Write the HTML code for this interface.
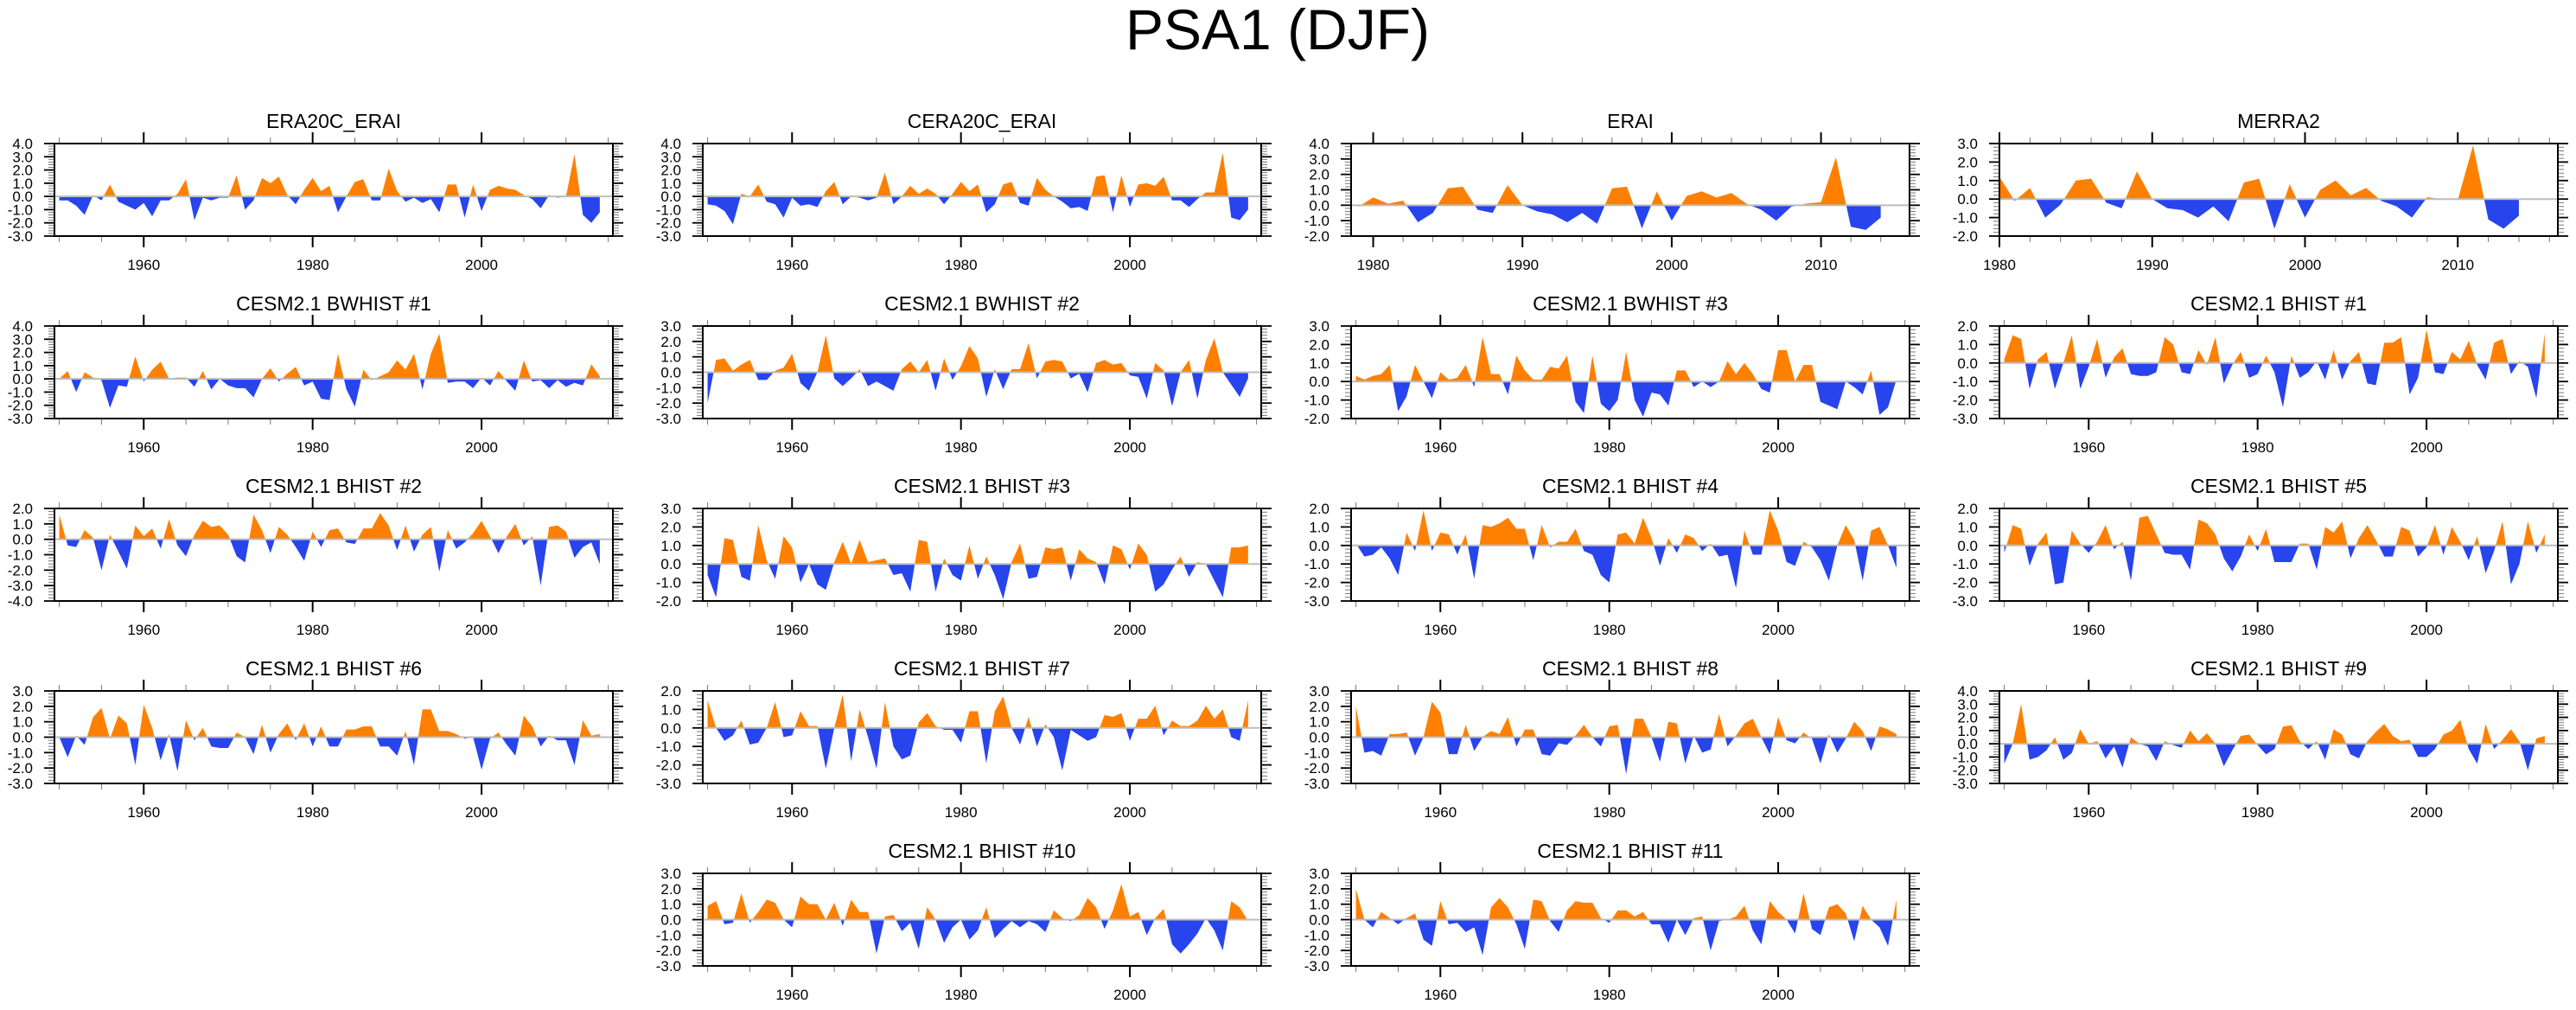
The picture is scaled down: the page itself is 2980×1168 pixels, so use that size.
<!DOCTYPE html>
<html>
<head>
<meta charset="utf-8">
<style>
  html,body{margin:0;padding:0;background:#fff;}
  body{width:2980px;height:1163px;overflow:hidden;font-family:"Liberation Sans",Arial,sans-serif;}
  svg text{font-family:"Liberation Sans",Arial,sans-serif;fill:#000;}
</style>
</head>
<body>
<svg id="chart" width="2980" height="1163" viewBox="0 0 2980 1163" xmlns="http://www.w3.org/2000/svg">
  <text x="1478" y="57" font-size="66" text-anchor="middle">PSA1 (DJF)</text>
</svg>
<script>
// ---- data (annual DJF PSA1 index) ----
const yearsLongStart = 1950;
const era20cErai = [-0.3,-0.3,-0.7,-1.4,0.1,-0.3,0.9,-0.4,-0.7,-1.0,-0.5,-1.5,-0.3,-0.3,0.2,1.3,-1.8,-0.1,-0.3,-0.1,-0.1,1.6,-1.0,-0.3,1.4,1.0,1.5,0.1,-0.6,0.5,1.4,0.4,0.8,-1.2,0.0,1.1,1.3,-0.3,-0.3,2.1,0.4,-0.4,-0.1,-0.5,-0.2,-1.2,0.9,0.9,-1.6,0.9,-1.1,0.5,0.8,0.6,0.5,0.1,-0.2,-0.9,0.1,-0.1,0.0,3.2,-1.4,-2.0,-1.2];
const cera20cErai = [-0.6,-0.7,-1.1,-2.1,0.2,0.0,0.9,-0.4,-0.6,-1.6,-0.1,-0.7,-0.6,-0.8,0.4,1.1,-0.6,0.0,-0.1,-0.3,-0.1,1.8,-0.6,0.0,0.8,0.2,0.6,0.2,-0.6,0.2,1.1,0.4,0.9,-1.2,-0.6,0.9,1.1,-0.5,-0.7,1.4,0.5,0.0,-0.4,-0.9,-0.8,-1.1,1.5,1.6,-1.2,1.6,-0.8,0.9,1.0,0.8,1.5,-0.3,-0.3,-0.8,-0.2,0.3,0.3,3.3,-1.6,-1.8,-1.0];
const eraiStart = 1979;
const erai = [-0.1,0.5,0.1,0.3,-1.1,-0.5,1.1,1.2,-0.3,-0.5,1.3,0.0,-0.4,-0.6,-1.1,-0.5,-1.2,1.1,1.2,-1.5,0.9,-1.0,0.6,0.9,0.5,0.8,0.1,-0.3,-1.0,-0.1,0.1,0.2,3.1,-1.4,-1.6,-0.8];
const merra2Start = 1980;
const merra2 = [1.2,-0.1,0.6,-1.0,-0.3,1.0,1.1,-0.2,-0.5,1.5,0.0,-0.5,-0.6,-1.0,-0.4,-1.2,0.9,1.1,-1.6,0.8,-1.0,0.5,1.0,0.2,0.6,-0.1,-0.4,-1.0,0.1,0.0,-0.05,2.9,-1.1,-1.6,-0.9];
const bwhist1 = [0.0,0.6,-1.0,0.5,0.1,-0.1,-2.2,-0.5,-0.6,1.7,-0.2,0.7,1.3,0.0,0.1,0.1,-0.6,0.6,-0.8,0.0,-0.5,-0.7,-0.7,-1.4,0.0,0.8,-0.2,0.4,0.9,-0.5,-0.2,-1.5,-1.6,1.9,-0.8,-2.1,0.7,-0.1,0.2,0.5,1.4,0.7,1.9,-0.8,1.9,3.4,-0.3,-0.2,-0.2,-0.7,0.1,-0.5,0.6,-0.2,-0.9,1.4,-0.2,-0.1,-0.7,-0.1,-0.6,-0.3,-0.5,1.1,0.2];
const bwhist2 = [-2.0,0.8,0.9,0.1,0.5,0.8,-0.5,-0.5,0.1,0.3,1.2,-0.7,-1.2,0.0,2.4,-0.4,-0.9,-0.4,0.2,-0.9,-0.6,-0.9,-1.2,0.2,0.7,0.0,0.8,-1.2,0.9,-0.5,0.4,1.7,0.9,-1.6,0.2,-1.1,0.2,0.2,1.9,-0.4,0.7,0.8,0.7,-0.4,-0.1,-1.3,0.6,0.8,0.5,0.6,-0.2,-0.3,-1.7,0.6,0.1,-2.2,0.0,0.8,-1.7,0.8,2.2,0.0,-0.8,-1.6,-0.4];
const bwhist3 = [0.3,0.1,0.3,0.4,0.9,-1.6,-0.8,0.9,0.0,-0.9,0.5,0.1,0.2,0.9,-0.3,2.4,0.4,0.4,-0.7,1.4,0.6,0.1,0.1,0.8,0.7,1.4,-1.1,-1.7,1.4,-1.2,-1.6,-1.0,1.6,-1.0,-1.9,-0.6,-0.7,-1.3,0.6,0.6,-0.3,0.0,-0.3,0.0,1.1,0.4,1.0,0.4,-0.4,-0.6,1.7,1.7,0.0,0.9,0.9,-1.1,-1.3,-1.5,0.0,-0.3,-0.7,0.6,-1.8,-1.4,0.1];
const bhist1 = [0.2,1.5,1.3,-1.4,0.2,0.6,-1.4,0.0,1.5,-1.4,-0.2,1.3,-0.8,0.3,0.8,-0.6,-0.7,-0.7,-0.5,1.4,1.0,-0.5,-0.6,0.7,-0.1,1.4,-1.1,-0.1,0.6,-0.8,-0.6,0.4,-0.5,-2.4,0.4,-0.8,-0.5,0.1,-0.9,0.7,-0.9,0.1,0.6,-1.1,-1.2,1.1,1.1,1.4,-1.7,-0.8,1.8,-0.5,-0.6,0.6,0.2,1.2,-0.1,-0.9,1.1,1.3,-0.6,0.1,-0.2,-1.9,1.6];
const bhist2 = [1.6,-0.4,-0.5,0.6,0.1,-2.0,0.3,-0.8,-1.9,0.9,0.2,0.7,-0.6,1.3,-0.4,-1.1,0.3,1.2,0.8,0.9,0.3,-1.1,-1.5,1.6,0.6,-0.9,0.8,0.3,-0.5,-1.4,0.5,-0.5,0.6,0.7,-0.2,-0.3,0.7,0.7,1.7,0.9,-0.7,0.9,-0.8,0.3,0.8,-2.1,0.6,-0.6,-0.2,0.4,1.2,0.2,-0.9,0.2,1.0,-0.4,0.2,-3.0,0.8,0.9,0.5,-1.2,-0.5,-0.2,-1.6];
const bhist3 = [-0.6,-1.8,1.4,1.3,-0.7,-0.9,2.1,0.2,-0.8,1.5,0.9,-1.0,0.0,-1.1,-1.4,0.1,1.2,0.0,1.3,0.1,0.2,0.3,-0.6,-0.5,-1.5,1.3,1.2,-1.5,0.3,-0.6,-0.9,1.0,-0.8,0.4,-0.6,-1.9,0.1,1.1,-0.8,-0.7,0.9,0.8,0.9,-0.9,0.8,0.3,0.1,-1.1,1.0,0.8,-0.3,1.1,0.5,-1.5,-1.1,-0.3,0.4,-0.7,0.1,0.0,-0.9,-1.8,0.9,0.9,1.0];
const bhist4 = [0.1,-0.6,-0.5,-0.1,-0.7,-1.6,0.7,-0.3,1.9,-0.3,0.7,0.6,-0.5,0.6,-1.8,1.1,1.0,1.2,1.5,0.9,0.9,-0.8,1.1,-0.1,0.2,0.2,0.9,-0.3,-0.5,-1.6,-2.0,0.6,0.7,0.1,1.5,0.4,-1.1,0.4,-0.4,0.6,0.4,-0.3,0.1,-0.6,-0.5,-2.3,0.8,-0.5,-0.5,1.9,0.8,-0.9,-1.1,0.2,-0.1,-0.8,-1.9,0.0,1.1,0.3,-1.9,0.8,1.0,0.0,-1.2];
const bhist5 = [-0.4,1.1,0.9,-1.1,0.1,0.7,-2.1,-2.0,0.8,0.1,-0.4,0.2,1.1,-0.2,0.2,-1.9,1.5,1.6,0.6,-0.4,-0.5,-0.5,-1.3,1.4,1.2,0.6,-0.7,-1.4,-0.6,0.6,-0.3,0.9,-0.9,-0.9,-0.9,0.1,0.1,-1.3,1.0,0.7,1.3,-0.7,0.4,1.1,0.3,-0.6,-0.6,1.0,0.8,-0.6,-0.1,1.1,-0.5,1.0,0.2,-0.8,0.5,-1.5,-0.3,1.3,-2.1,-1.0,1.3,-0.4,0.6];
const bhist6 = [0.0,-1.3,0.1,-0.5,1.3,1.9,-0.1,1.4,0.9,-1.8,2.1,0.6,-1.5,0.2,-2.2,1.1,-0.2,0.6,-0.6,-0.7,-0.7,0.3,0.0,-1.1,0.8,-1.0,0.2,0.9,-0.2,0.9,-0.6,0.7,-0.6,-0.6,0.5,0.5,0.7,0.7,-0.6,-0.6,-1.2,0.4,-1.8,1.8,1.8,0.4,0.4,0.2,-0.1,0.0,-2.1,-0.1,0.3,-0.5,-1.2,1.4,0.7,-0.6,0.1,-0.2,-0.2,-1.8,1.1,0.1,0.2];
const bhist7 = [1.5,0.0,-0.7,-0.4,0.4,-0.9,-0.8,0.0,1.4,-0.5,-0.4,0.9,0.1,0.1,-2.2,0.0,1.8,-1.8,1.0,-0.5,-2.2,1.4,-1.0,-1.7,-1.5,0.3,0.8,0.1,-0.1,-0.1,-0.8,0.9,0.9,-1.9,0.9,1.7,0.0,-0.9,0.6,-1.0,0.2,-0.5,-2.3,-0.1,-0.4,-0.7,-0.5,0.7,0.6,0.8,-0.7,0.5,0.5,1.2,-0.4,0.4,0.1,0.1,0.4,1.2,0.5,1.0,-0.5,-0.7,1.5];
const bhist8 = [2.0,-1.0,-0.9,-1.2,0.2,0.2,0.3,-1.2,0.0,2.3,1.6,-1.1,-1.1,0.8,-0.9,0.0,0.4,0.2,1.3,-0.6,0.5,0.5,-1.1,-1.2,-0.4,-0.5,0.1,0.8,0.0,-0.6,0.7,0.8,-2.4,1.2,1.2,0.0,-1.6,1.0,0.9,-1.7,0.1,-1.0,-0.8,1.5,-0.6,0.1,0.9,1.2,0.0,-1.1,1.3,-0.2,-0.4,0.3,-0.1,-1.7,0.2,-1.0,-0.1,1.0,0.4,-0.9,0.7,0.5,0.2];
const bhist9 = [-1.5,0.0,3.0,-1.2,-1.0,-0.5,0.5,-1.2,-0.7,1.1,0.0,0.2,-1.1,-0.2,-1.8,0.5,0.0,-0.2,-1.3,0.2,-0.1,-0.3,1.0,0.2,0.8,0.0,-1.7,-0.5,0.6,0.7,-0.1,-0.8,-0.4,1.3,1.4,0.2,-0.4,0.2,-1.2,1.1,0.7,-0.8,-1.1,0.2,0.9,1.5,0.6,0.2,0.3,-1.0,-1.0,-0.4,0.7,1.0,1.8,-0.4,-1.5,1.5,-0.4,0.3,1.1,0.2,-2.0,0.4,0.6];
const bhist10 = [0.9,1.2,-0.3,-0.2,1.7,-0.2,0.5,1.3,1.1,0.0,-0.5,1.5,1.0,1.0,0.0,1.1,-0.4,1.3,0.5,0.5,-2.2,0.2,0.3,-0.75,-0.2,-1.9,0.8,0.0,-1.5,-0.5,0.0,-1.3,-0.7,0.8,-1.2,-0.6,-0.1,-0.5,-0.1,-0.3,-0.8,0.6,0.1,-0.1,0.3,1.4,0.8,-0.6,0.6,2.3,0.2,0.5,-1.0,0.1,0.7,-1.6,-2.2,-1.6,-0.9,0.1,-0.7,-2.0,1.2,0.8,-0.1];
const bhist11 = [2.0,0.0,-0.5,0.5,0.1,-0.3,0.1,0.4,-1.3,-1.7,1.2,-0.3,-0.2,-0.8,-0.5,-2.3,0.8,1.4,0.8,-0.3,-1.9,1.3,1.2,-0.1,-0.8,0.6,1.2,1.1,1.1,0.1,-0.2,0.6,0.6,0.2,0.5,-0.3,-0.3,-1.5,0.0,-1.0,0.1,0.2,-2.0,-0.1,0.0,0.2,0.9,-0.7,-1.6,1.2,0.5,0.0,-0.9,1.7,-0.6,-1.0,0.8,1.0,0.4,-1.4,0.9,0.0,-0.5,-1.7,1.3];

// panel titles, series, y-ranges
const panelTitles = ["ERA20C_ERAI","CERA20C_ERAI","ERAI","MERRA2","CESM2.1 BWHIST #1","CESM2.1 BWHIST #2","CESM2.1 BWHIST #3","CESM2.1 BHIST #1","CESM2.1 BHIST #2","CESM2.1 BHIST #3","CESM2.1 BHIST #4","CESM2.1 BHIST #5","CESM2.1 BHIST #6","CESM2.1 BHIST #7","CESM2.1 BHIST #8","CESM2.1 BHIST #9","CESM2.1 BHIST #10","CESM2.1 BHIST #11"];
const panelSeries = [era20cErai,cera20cErai,erai,merra2,bwhist1,bwhist2,bwhist3,bhist1,bhist2,bhist3,bhist4,bhist5,bhist6,bhist7,bhist8,bhist9,bhist10,bhist11];
const panelStartYears = [1950,1950,eraiStart,merra2Start,1950,1950,1950,1950,1950,1950,1950,1950,1950,1950,1950,1950,1950,1950];
const panelYMin = [-3,-3,-2,-2,-3,-3,-2,-3,-4,-2,-3,-3,-3,-3,-3,-3,-3,-3];
const panelYMax = [4,4,4,3,4,3,3,2,2,3,2,2,3,2,3,4,3,3];
const longYearTicks = [1960,1980,2000];
const shortYearTicks = [1980,1990,2000,2010];

// ---- layout ----
const NS = "http://www.w3.org/2000/svg";
const svg = document.getElementById("chart");
const colLeft = [63,813,1563,2313];
const rowTop = [166,377,588,799,1010];
const panelCell = [[0,0],[0,1],[0,2],[0,3],[1,0],[1,1],[1,2],[1,3],[2,0],[2,1],[2,2],[2,3],[3,0],[3,1],[3,2],[3,3],[4,1],[4,2]];
const BW = 646, BH = 107;
const ORANGE = "#ff8000", BLUE = "#2844ec";

function mk(tag, attrs, parent){
  const e = document.createElementNS(NS, tag);
  for (const k in attrs) e.setAttribute(k, attrs[k]);
  parent.appendChild(e);
  return e;
}
function slug(s){ return s.toLowerCase().replace(/[^a-z0-9]+/g,'-').replace(/^-|-$/g,''); }

panelTitles.forEach((title, i) => {
  const [r, c] = panelCell[i];
  const L = colLeft[c], T = rowTop[r], R = L + BW, B = T + BH;
  const data = panelSeries[i], y0 = panelStartYears[i];
  const ymin = panelYMin[i], ymax = panelYMax[i];
  let xd0, xd1, majorStep, minorStep, labels;
  if (y0 === 1950) { xd0 = 1949.43; xd1 = 2015.55; majorStep = 20; minorStep = 5; labels = longYearTicks; }
  else if (y0 === 1979) { xd0 = 1978.52; xd1 = 2015.93; majorStep = 10; minorStep = 2; labels = shortYearTicks; }
  else { xd0 = 1980; xd1 = 2016.55; majorStep = 10; minorStep = 2; labels = shortYearTicks; }
  const xs = yr => L + (yr - xd0) / (xd1 - xd0) * BW;
  const ys = v => B - (v - ymin) / (ymax - ymin) * BH;

  const g = mk("g", {}, svg);
  
  

  const t = mk("text", {x: (L+R)/2, y: T - 18, "font-size": 23, "text-anchor": "middle"}, g);
  t.textContent = title;
  
  

  // area fill
  const zy = ys(0);
  let d = "M" + xs(y0).toFixed(2) + "," + zy.toFixed(2);
  data.forEach((v, k) => { d += " L" + xs(y0 + k).toFixed(2) + "," + ys(v).toFixed(2); });
  d += " L" + xs(y0 + data.length - 1).toFixed(2) + "," + zy.toFixed(2) + " Z";
  const cidA = "clipA" + i, cidB = "clipB" + i;
  const defs = mk("defs", {}, g);
  const ca = mk("clipPath", {id: cidA}, defs);
  mk("rect", {x: L, y: T, width: BW, height: zy - T}, ca);
  const cb = mk("clipPath", {id: cidB}, defs);
  mk("rect", {x: L, y: zy, width: BW, height: B - zy}, cb);
  const pa = mk("path", {d: d, fill: ORANGE, "clip-path": "url(#" + cidA + ")"}, g);
  
  
  const pb = mk("path", {d: d, fill: BLUE, "clip-path": "url(#" + cidB + ")"}, g);
  
  

  const zl = mk("line", {x1: L, x2: R, y1: zy, y2: zy, stroke: "#bdbdbd", "stroke-width": 2}, g);
  
  

  // y ticks
  const yt = mk("g", {}, g);
  
  
  for (let v = ymin; v <= ymax + 1e-9; v += 0.2) {
    const vv = Math.round(v * 10) / 10;
    const yy = ys(vv);
    const major = Math.abs(vv - Math.round(vv)) < 1e-6;
    const len = major ? 12 : 7;
    const col = major ? "#000" : "#777";
    const sw = major ? 1.8 : 1;
    mk("line", {x1: L - len, x2: L, y1: yy, y2: yy, stroke: col, "stroke-width": sw}, yt);
    mk("line", {x1: R, x2: R + len, y1: yy, y2: yy, stroke: col, "stroke-width": sw}, yt);
    if (major) {
      const lb = mk("text", {x: L - 25, y: yy + 6, "font-size": 17, "text-anchor": "end"}, yt);
      lb.textContent = vv.toFixed(1);
      
      
    }
  }
  // x ticks
  const xt = mk("g", {}, g);
  
  
  const firstTick = Math.ceil(xd0 / minorStep) * minorStep;
  for (let yr = firstTick; yr <= xd1 + 1e-9; yr += minorStep) {
    const xx = xs(yr);
    const major = yr % majorStep === 0;
    const len = major ? 13 : 7;
    const sw = major ? 2 : 1;
    const col = major ? "#000" : "#777";
    mk("line", {x1: xx, x2: xx, y1: T - len, y2: T, stroke: col, "stroke-width": sw}, xt);
    mk("line", {x1: xx, x2: xx, y1: B, y2: B + len, stroke: col, "stroke-width": sw}, xt);
  }
  labels.forEach(yr => {
    const lb = mk("text", {x: xs(yr), y: B + 39, "font-size": 17, "text-anchor": "middle"}, xt);
    lb.textContent = String(yr);
    
    
  });

  const box = mk("rect", {x: L, y: T, width: BW, height: BH, fill: "none", stroke: "#000", "stroke-width": 2}, g);
  
  
});
</script>
</body>
</html>
